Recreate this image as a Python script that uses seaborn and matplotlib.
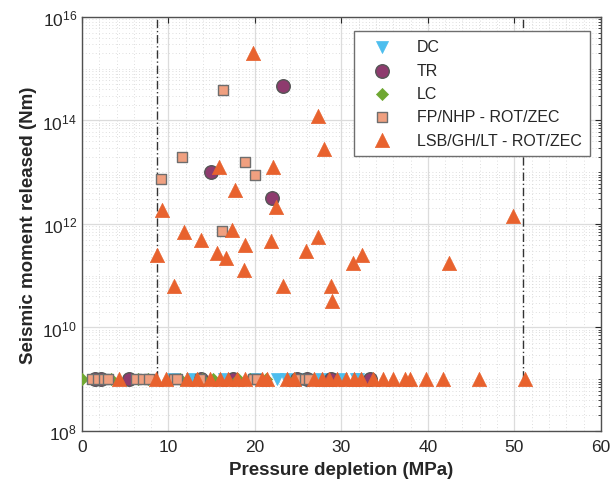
import numpy as np
import pandas as pd
import matplotlib
matplotlib.use("Agg")
import matplotlib.pyplot as plt
import matplotlib.ticker as mticker
import seaborn as sns

# ---------------- data ----------------
# DC (inverted triangles) - all at 1e9
dc_x = [10.5, 12.7, 16.4, 20.0, 22.5, 23.6, 25.4, 27.6, 29.9, 31.7, 31.9]
dc_y = [1e9] * len(dc_x)

# TR (circles)
tr_x = [14.9, 22.0, 23.2, 1.5, 2.2, 5.4, 13.8, 17.5, 24.9, 26.0, 28.8, 33.3]
tr_y = [1e13, 3.2e12, 4.6e14, 1e9, 1e9, 1e9, 1e9, 1e9, 1e9, 1e9, 1e9, 1e9]

# LC (diamonds) - all at 1e9
lc_x = [0.0, 3.35, 6.5, 7.6, 11.3, 13.9, 15.1, 18.0, 19.4, 21.3, 24.6]
lc_y = [1e9] * len(lc_x)

# FP/NHP - ROT/ZEC (squares)
fp_x = [16.3, 11.6, 18.9, 20.0, 9.1, 16.2,
        1.2, 1.8, 2.6, 3.0, 6.2, 7.0, 7.8, 10.6, 11.0, 13.6, 19.8, 20.2, 25.2, 25.8, 26.3]
fp_y = [3.9e14, 2e13, 1.6e13, 8.9e12, 7.4e12, 7.3e11] + [1e9] * 15

# LSB/GH/LT - ROT/ZEC (triangles)
lsb_x = [19.8, 27.3, 28.0, 15.8, 22.1, 17.7, 22.4, 9.2, 49.8, 11.8, 17.3, 13.8, 18.8,
         21.8, 27.3, 8.7, 15.6, 16.6, 25.9, 32.4, 31.3, 42.4, 18.7, 10.6, 23.2, 28.8, 28.9,
         4.3, 8.6, 9.7, 12.1, 13.3, 14.8, 16.0, 16.9, 17.9, 18.8, 20.8, 21.4, 23.7, 24.5,
         26.8, 27.7, 28.6, 29.5, 30.5, 31.4, 32.3, 33.6, 34.8, 36.0, 37.3, 37.9, 39.8,
         41.7, 45.9, 51.2]
lsb_y = [2e15, 1.2e14, 2.8e13, 1.26e13, 1.26e13, 4.5e12, 2.1e12, 1.9e12, 1.4e12, 7e11,
         7.6e11, 4.9e11, 3.9e11, 4.7e11, 5.6e11, 2.5e11, 2.7e11, 2.2e11, 3e11, 2.5e11,
         1.8e11, 1.8e11, 1.3e11, 6.3e10, 6.3e10, 6.3e10, 3.2e10] + [1e9] * 30

# vertical reference lines (x positions), spanning y range
vline_x = [8.7, 51.0]
vline_y = [1e9, 1e16]

labels = ["DC", "TR", "LC", "FP/NHP - ROT/ZEC", "LSB/GH/LT - ROT/ZEC"]
x_ticks = [0, 10, 20, 30, 40, 50, 60]
y_ticks = [1e8, 1e10, 1e12, 1e14, 1e16]

# ---------------- style ----------------
sns.set_style("white")
plt.rcParams["font.family"] = ["Liberation Sans", "DejaVu Sans"]
plt.rcParams["mathtext.default"] = "regular"

fig = plt.figure(figsize=(6.15, 4.85), dpi=100)
ax = fig.add_axes([0.1333, 0.1093, 0.8437, 0.8537])

for vx in vline_x:
    sns.lineplot(x=[vx, vx], y=vline_y, ax=ax, color="#333333", lw=1.0,
                 estimator=None, sort=False,
                 linestyle=(0, (6, 2, 1, 2)), zorder=2, legend=False)

common = dict(ax=ax, zorder=3)
sns.scatterplot(x=dc_x, y=dc_y, marker="v", s=75, color="#4DBEEE",
                edgecolor="#4DBEEE", linewidth=0.5, label=labels[0], **common)
sns.scatterplot(x=tr_x, y=tr_y, marker="o", s=95, color="#8E3B6E",
                edgecolor="#555555", linewidth=1.0, label=labels[1], **common)
sns.scatterplot(x=lc_x, y=lc_y, marker="D", s=38, color="#6FA732",
                edgecolor="#6FA732", linewidth=0.5, label=labels[2], **common)
sns.scatterplot(x=fp_x, y=fp_y, marker="s", s=62, color="#F0A080",
                edgecolor="#6E6E6E", linewidth=1.0, label=labels[3], **common)
sns.scatterplot(x=lsb_x, y=lsb_y, marker="^", s=105, color="#E8622E",
                edgecolor="#E8622E", linewidth=0.5, label=labels[4], **common)

ax.set_yscale("log")
ax.set_xlim(0, 60)
ax.set_ylim(1e8, 1e16)
ax.set_xticks(x_ticks)
ax.set_yticks(y_ticks)
ax.xaxis.set_minor_locator(mticker.MultipleLocator(2))
ax.yaxis.set_minor_locator(mticker.LogLocator(base=10, subs=np.arange(1, 10), numticks=100))
ax.yaxis.set_minor_formatter(mticker.NullFormatter())
ax.yaxis.set_major_formatter(mticker.LogFormatterMathtext())

ax.grid(True, which="major", color="#DCDCDC", lw=0.9, ls="-", zorder=0)
ax.grid(True, which="minor", color="#D4D4D4", lw=0.6, ls=(0, (1, 3)), zorder=0)
ax.set_axisbelow(True)

ax.tick_params(which="both", direction="in", top=True, right=True,
               colors="#262626", labelsize=12.5)
ax.tick_params(which="major", length=4, width=0.8)
ax.tick_params(which="minor", length=2, width=0.6)
ax.tick_params(axis="x", which="minor", length=0)
ax.tick_params(axis="x", which="major", pad=6)
for sp in ax.spines.values():
    sp.set_color("#505050")
    sp.set_linewidth(1.0)
    sp.set_visible(True)

ax.set_xlabel("Pressure depletion (MPa)", fontsize=13.5, fontweight="bold",
              color="#262626", labelpad=5)
ax.set_ylabel("Seismic moment released (Nm)", fontsize=13.5, fontweight="bold",
              color="#262626", labelpad=4)

leg = ax.legend(loc="upper right", bbox_to_anchor=(0.98, 0.967), fontsize=11.5,
                frameon=True, fancybox=False, edgecolor="#6E6E6E",
                framealpha=1.0, borderpad=0.55, labelspacing=0.52,
                handlelength=2.4, handletextpad=1.0, borderaxespad=0.0,
                markerscale=1.0)
leg.get_frame().set_linewidth(1.0)

fig.savefig("out.png", dpi=100)
